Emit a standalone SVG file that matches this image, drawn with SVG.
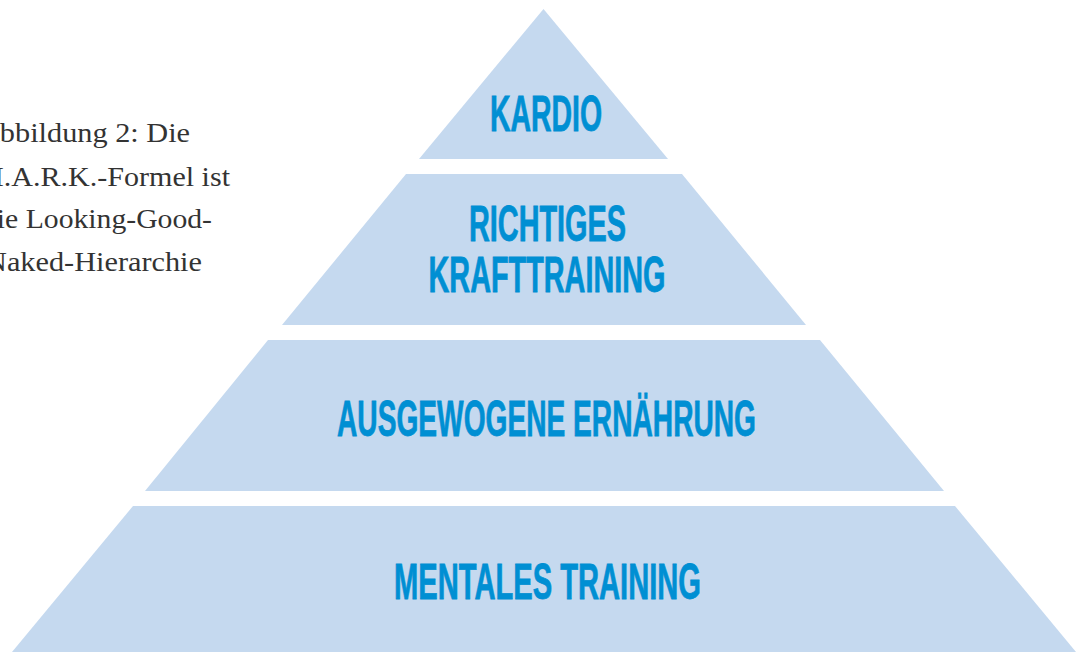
<svg xmlns="http://www.w3.org/2000/svg" width="1081" height="652" viewBox="0 0 1081 652">
  <style>
    .tier { fill: #c5d9ef; }
    .lbl { font-family: "Liberation Sans Narrow", "Liberation Sans", Arial, sans-serif; font-weight: bold; font-size: 50px; fill: #008fd3; stroke: #008fd3; stroke-width: 0.8; text-anchor: middle; }
    .cap { font-family: "Liberation Serif", "DejaVu Serif", serif; font-size: 27px; fill: #333333; text-anchor: end; }
  </style>
  <rect width="1081" height="652" fill="#ffffff"/>
  <g id="caption">
    <text class="cap" x="190" y="142" textLength="212" lengthAdjust="spacingAndGlyphs">Abbildung 2: Die</text>
    <text class="cap" x="230" y="186" textLength="253" lengthAdjust="spacingAndGlyphs">M.A.R.K.-Formel ist</text>
    <text class="cap" x="212" y="228" textLength="230" lengthAdjust="spacingAndGlyphs">die Looking-Good-</text>
    <text class="cap" x="202" y="271" textLength="217" lengthAdjust="spacingAndGlyphs">Naked-Hierarchie</text>
  </g>
  <g id="tier-kardio">
    <polygon class="tier" points="543.5,9 668,159 419,159"/>
    <text class="lbl" x="546" y="131" textLength="112" lengthAdjust="spacingAndGlyphs">KARDIO</text>
  </g>
  <g id="tier-kraft">
    <polygon class="tier" points="406,174 682,174 806,325 282,325"/>
    <text class="lbl" x="547.5" y="241" textLength="157" lengthAdjust="spacingAndGlyphs">RICHTIGES</text>
    <text class="lbl" x="547" y="292" textLength="237" lengthAdjust="spacingAndGlyphs">KRAFTTRAINING</text>
  </g>
  <g id="tier-ernaehrung">
    <polygon class="tier" points="268,340 820,340 944,491 145,491"/>
    <text class="lbl" x="546.5" y="436" textLength="419" lengthAdjust="spacingAndGlyphs">AUSGEWOGENE ERNÄHRUNG</text>
  </g>
  <g id="tier-mental">
    <polygon class="tier" points="133,506 955,506 1076,652 12,652"/>
    <text class="lbl" x="547.5" y="599" textLength="307" lengthAdjust="spacingAndGlyphs">MENTALES TRAINING</text>
  </g>
</svg>
